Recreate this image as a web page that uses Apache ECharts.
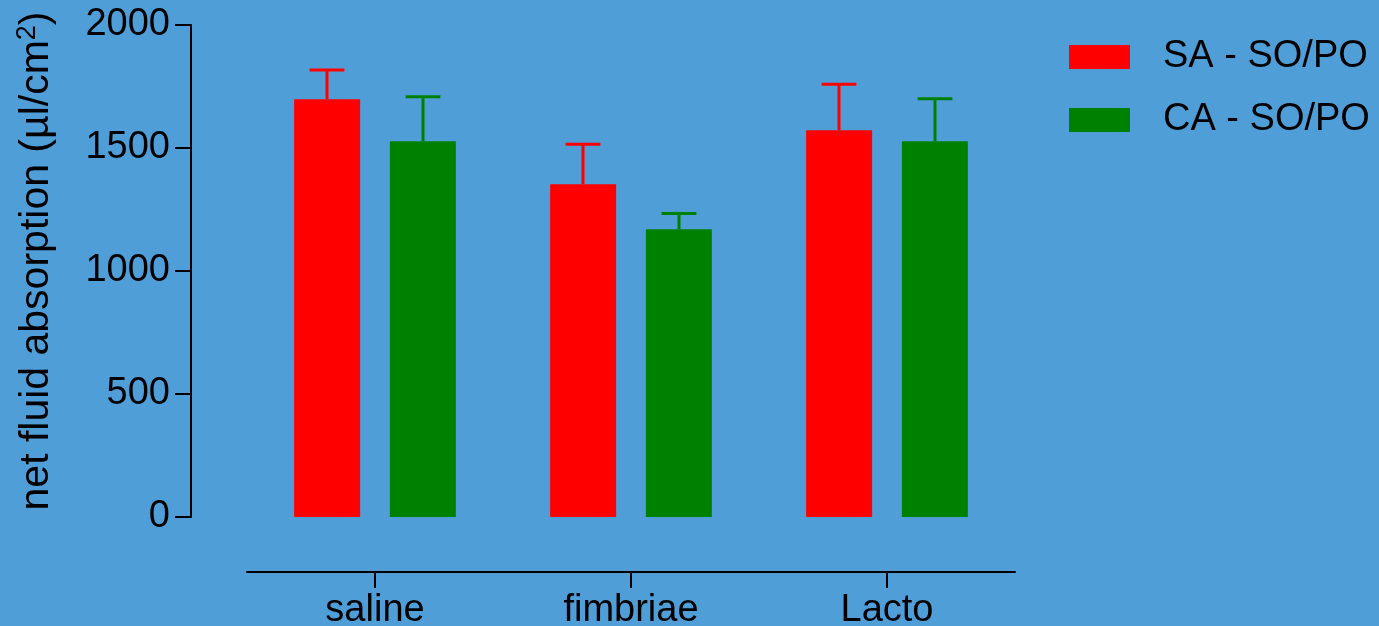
<!DOCTYPE html>
<html>
<head>
<meta charset="utf-8">
<script src="https://cdn.jsdelivr.net/npm/echarts@6/dist/echarts.min.js"></script>
<style>
html,body{margin:0;padding:0;background:#509ED8;}
#chart{width:1379px;height:626px;}
</style>
</head>
<body>
<div id="chart"></div>
<script>
const categories = ['saline', 'fimbriae', 'Lacto'];
const seriesNames = ['SA - SO/PO', 'CA - SO/PO'];
const saMeans = [1698, 1353, 1572];
const saErrors = [119, 162, 187];
const caMeans = [1527, 1170, 1527];
const caErrors = [181, 64, 173];
const yTicks = [0, 500, 1000, 1500, 2000];

const FONT = '"Liberation Sans", Arial, sans-serif';
const RED = '#FF0000';
const GREEN = '#008000';

function errorSeries(means, errs, color, side) {
  return {
    type: 'custom',
    name: '_err' + side,
    silent: true,
    z: 1,
    data: means.map((m, i) => [i, m, m + errs[i]]),
    renderItem: function (params, api) {
      const band = api.size([1, 0])[0];
      const off = side * band * 0.1875;
      const base = api.coord([api.value(0), api.value(1)]);
      const top = api.coord([api.value(0), api.value(2)]);
      const x = base[0] + off;
      const cap = band * 0.068;
      const style = { stroke: color, lineWidth: 3 };
      return {
        type: 'group',
        children: [
          { type: 'line', shape: { x1: x, y1: base[1], x2: x, y2: top[1] }, style: style },
          { type: 'line', shape: { x1: x - cap, y1: top[1], x2: x + cap, y2: top[1] }, style: style }
        ]
      };
    }
  };
}

const chart = echarts.init(document.getElementById('chart'));
chart.setOption({
  backgroundColor: '#509ED8',
  animation: false,
  textStyle: { fontFamily: FONT },
  grid: { left: 247, width: 768, top: 25, bottom: 109, containLabel: false, outerBoundsMode: 'none' },
  legend: {
    data: seriesNames,
    orient: 'vertical',
    left: 1069,
    top: 38,
    padding: 0,
    itemWidth: 61,
    itemHeight: 24,
    itemGap: 25,
    icon: 'rect',
    textStyle: { fontSize: 38, color: '#000', fontFamily: FONT, padding: [0, 0, 0, 28] }
  },
  xAxis: {
    type: 'category',
    data: categories,
    offset: 55,
    axisLine: { show: true, onZero: false, lineStyle: { color: '#000', width: 2 } },
    axisTick: { show: true, alignWithLabel: true, interval: 0, length: 16, lineStyle: { color: '#000', width: 2 } },
    axisLabel: { fontSize: 38, color: '#000', margin: 20, fontFamily: FONT }
  },
  yAxis: {
    type: 'value',
    min: 0,
    max: 2000,
    interval: 500,
    offset: 56,
    splitLine: { show: false },
    axisLine: { show: true, onZero: false, lineStyle: { color: '#000', width: 2 } },
    axisTick: { show: true, length: 16, lineStyle: { color: '#000', width: 2 } },
    axisLabel: {
      fontSize: 38, color: '#000', margin: 21, fontFamily: FONT,
      formatter: v => yTicks.includes(v) ? String(v) : ''
    },
    name: 'net fluid absorption (µl/cm{sup|2})',
    nameLocation: 'middle',
    nameRotate: 90,
    nameGap: 132,
    nameTextStyle: {
      fontSize: 41, color: '#000', fontFamily: FONT, padding: [0, 0, 0, 20],
      rich: { sup: { fontSize: 27, color: '#000', fontFamily: FONT, padding: [0, 0, 18, 0] } }
    }
  },
  series: [
    {
      name: seriesNames[0], type: 'bar', data: saMeans, barWidth: 66, barGap: '45%',
      itemStyle: { color: RED }, z: 2
    },
    {
      name: seriesNames[1], type: 'bar', data: caMeans, barWidth: 66,
      itemStyle: { color: GREEN }, z: 2
    },
    errorSeries(saMeans, saErrors, RED, -1),
    errorSeries(caMeans, caErrors, GREEN, 1)
  ]
});
</script>
</body>
</html>
